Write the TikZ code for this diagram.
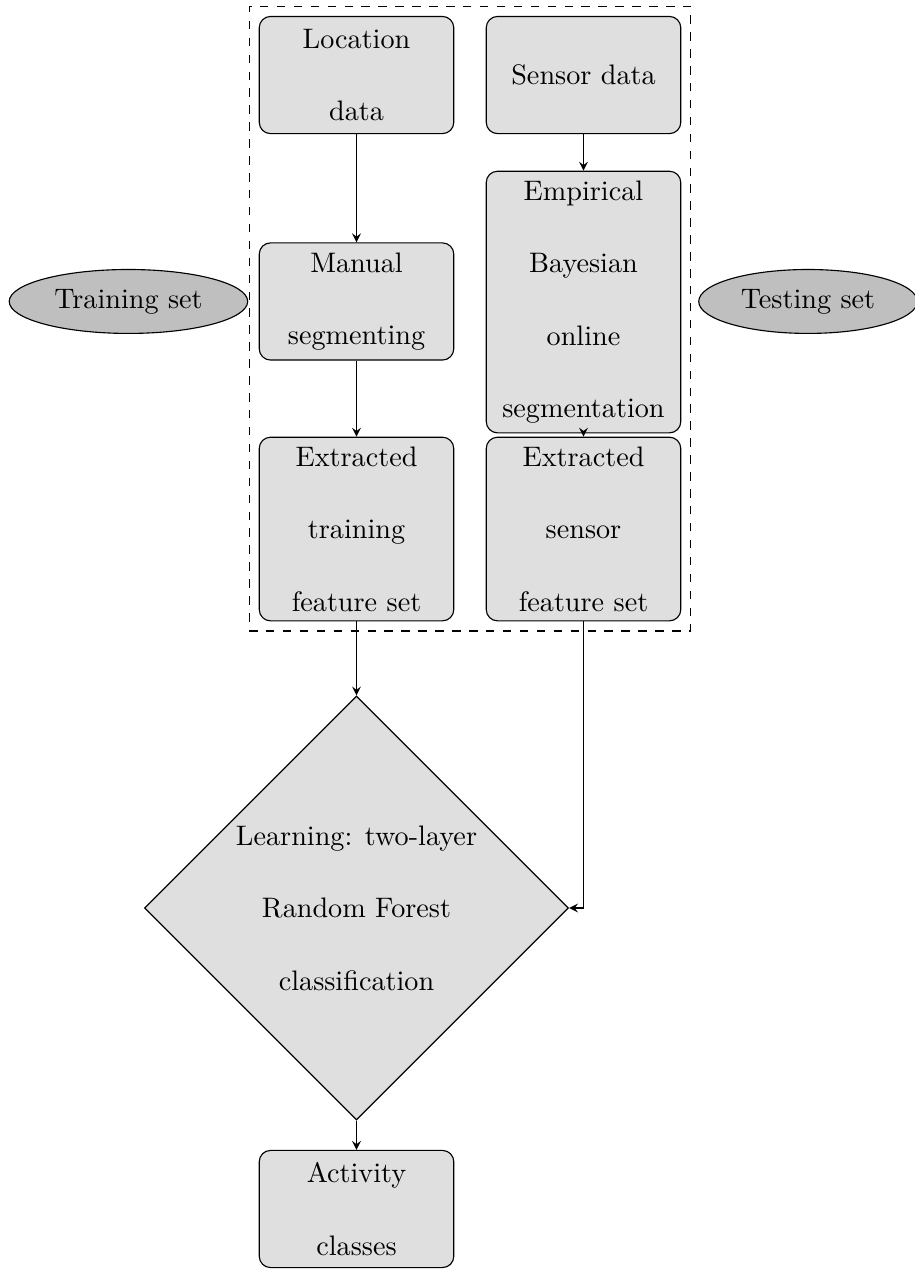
\documentclass[tikz,border=0pt]{standalone}
\usetikzlibrary{shapes.geometric,fit,arrows}
\tikzset{
  box/.style={rectangle, rounded corners, draw, fill=gray!25, text width=2.19cm,
    align=center, minimum height=1.46cm, font=\fontsize{10}{25.7}\selectfont},
  setnode/.style={ellipse, draw, fill=gray!50, inner sep=3.6pt},
  decision/.style={diamond, draw, fill=gray!25, align=center, inner sep=1.6pt,
    font=\fontsize{10}{25.7}\selectfont},
  line/.style={draw, -stealth}
}
\begin{document}
\begin{tikzpicture}
      \useasboundingbox (0,0) rectangle (11.391,-15.815);
      \draw
        (4.443,-0.935) node[box] (loc){Location\\data}
        (7.272,-0.935) node[box] (sens){Sensor data}
        (4.443,-3.757) node[box] (man){Manual\\segmenting}
        (7.272,-3.764) node[box] (ebos){Empirical\\Bayesian\\online\\segmentation}
        (4.443,-6.593) node[box] (ext1){Extracted\\training\\feature set}
        (7.272,-6.593) node[box] (ext2){Extracted\\sensor\\feature set}
        (1.601,-3.757) node[setnode] (train){Training set}
        (10.070,-3.757) node[setnode] (test){Testing set}
        (4.443,-11.316) node[decision] (learn){Learning: two-layer\\Random Forest\\classification}
        (4.443,-15.067) node[box] (act){Activity\\classes};
      \node[draw, dashed, fit=(loc)(sens)(ext1)(ext2), inner sep=3.4pt] (frame){};
      \begin{scope}[line]
        \draw (loc) to (man);
        \draw (man) to (ext1);
        \draw (sens) to (ebos);
        \draw (ebos) to (ext2);
        \draw (ext1) to (learn);
        \draw (ext2) |- (learn);
        \draw (learn) to (act);
      \end{scope}
    \end{tikzpicture}
\end{document}
